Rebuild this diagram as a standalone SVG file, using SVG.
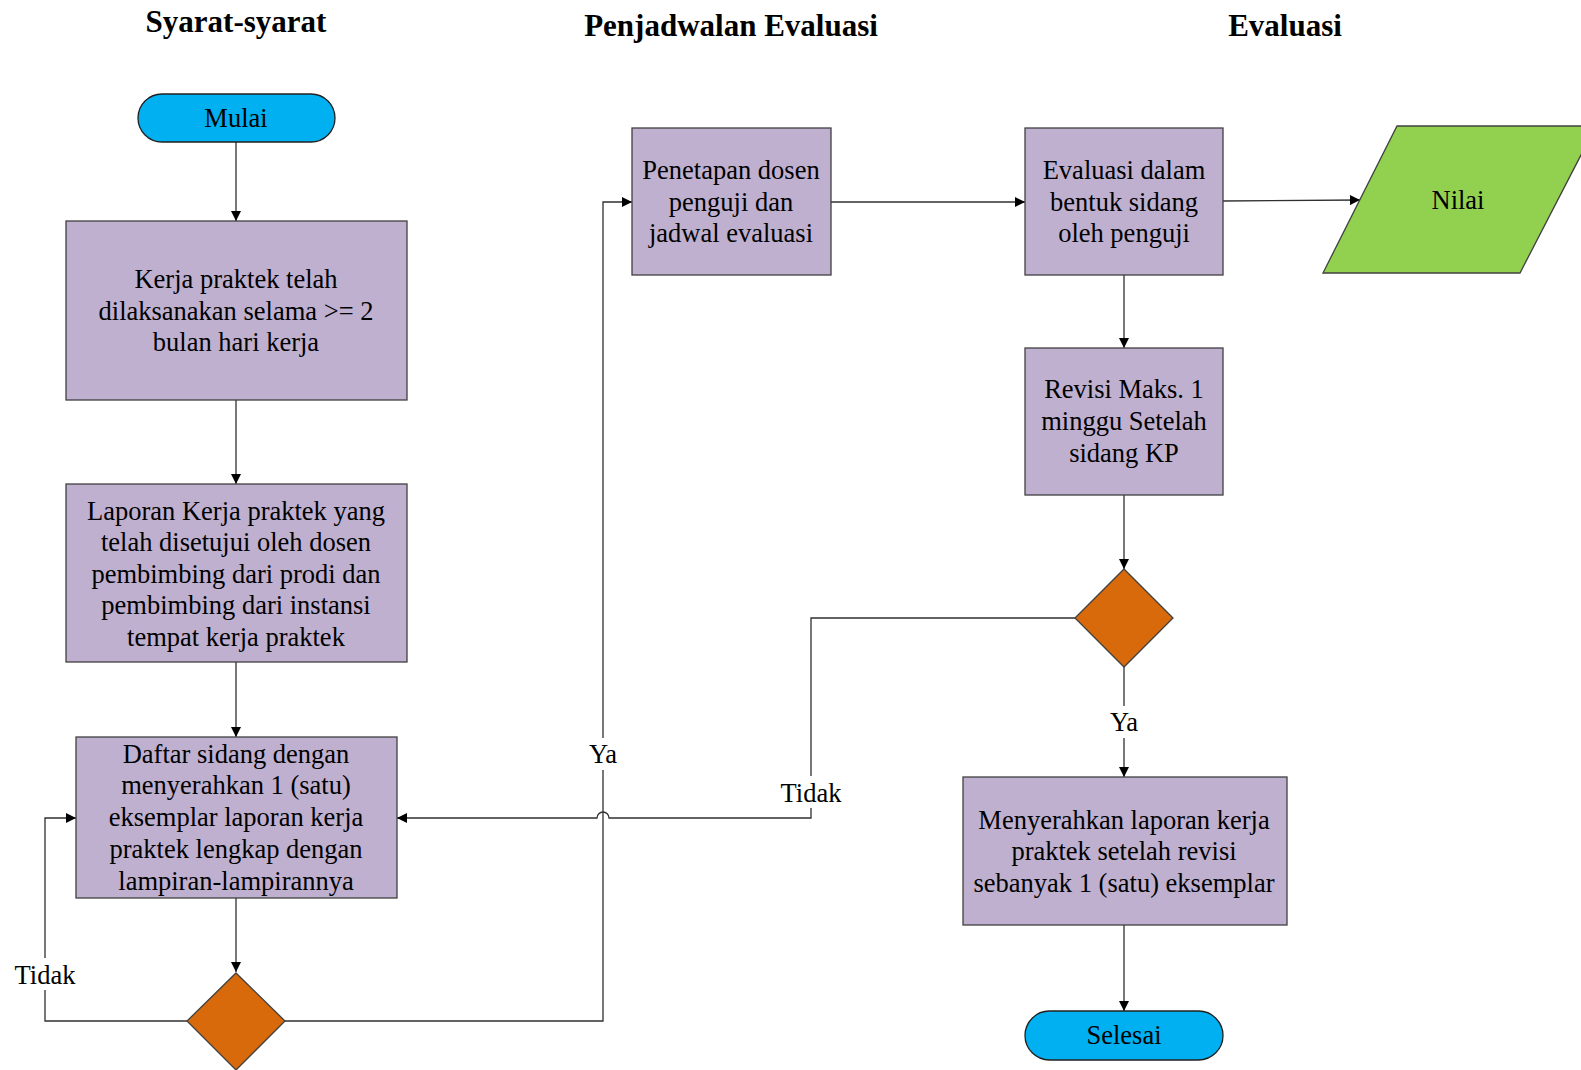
<svg xmlns="http://www.w3.org/2000/svg" width="1581" height="1070" viewBox="0 0 1581 1070">
<defs>
<style>
.t{font-family:"Liberation Serif","Times New Roman",serif;font-size:26.5px;fill:#000;text-anchor:middle}
.h{font-family:"Liberation Serif","Times New Roman",serif;font-size:31px;font-weight:bold;fill:#000;text-anchor:middle}
.box{fill:#BFB0D0;stroke:#404040;stroke-width:1.3}
.term{fill:#00B0F0;stroke:#202020;stroke-width:1.3}
.dec{fill:#D86A0C;stroke:#404040;stroke-width:1.3}
.io{fill:#92D050;stroke:#404040;stroke-width:1.3}
.ln{fill:none;stroke:#303030;stroke-width:1.3}
.bg{fill:#fff}
</style>
<marker id="ar" viewBox="0 0 10 10" refX="10" refY="5" markerWidth="10" markerHeight="10" markerUnits="userSpaceOnUse" orient="auto">
<path d="M0,0 L10,5 L0,10 z" fill="#000"/>
</marker>
</defs>
<rect width="1581" height="1070" fill="#fff"/>

<g id="titles">
<text class="h" x="236" y="32">Syarat-syarat</text>
<text class="h" x="731" y="36">Penjadwalan Evaluasi</text>
<text class="h" x="1285" y="36">Evaluasi</text>
</g>

<g id="connectors">
<path class="ln" marker-end="url(#ar)" d="M236,142 L236,221"/>
<path class="ln" marker-end="url(#ar)" d="M236,400 L236,484"/>
<path class="ln" marker-end="url(#ar)" d="M236,662 L236,737"/>
<path class="ln" marker-end="url(#ar)" d="M236,898 L236,972"/>
<path class="ln" marker-end="url(#ar)" d="M187,1021 L45,1021 L45,818 L76,818"/>
<path class="ln" marker-end="url(#ar)" d="M285,1021 L603,1021 L603,202 L632,202"/>
<path class="ln" marker-end="url(#ar)" d="M831,202 L1025,202"/>
<path class="ln" marker-end="url(#ar)" d="M1223,201 L1360,200"/>
<path class="ln" marker-end="url(#ar)" d="M1124,275 L1124,348"/>
<path class="ln" marker-end="url(#ar)" d="M1124,495 L1124,569"/>
<path class="ln" marker-end="url(#ar)" d="M1075,618 L811,618 L811,818 L609,818 A6,6 0 0 0 597,818 L397,818"/>
<path class="ln" marker-end="url(#ar)" d="M1124,667 L1124,777"/>
<path class="ln" marker-end="url(#ar)" d="M1124,925 L1124,1011"/>
<g id="labels">
<rect class="bg" x="10" y="958" width="72" height="32"/>
<text class="t" x="45" y="984">Tidak</text>
<rect class="bg" x="583" y="738" width="40" height="32"/>
<text class="t" x="603" y="763">Ya</text>
<rect class="bg" x="774" y="776" width="74" height="32"/>
<text class="t" x="811" y="802">Tidak</text>
<rect class="bg" x="1104" y="706" width="40" height="32"/>
<text class="t" x="1124" y="731">Ya</text>
</g>
</g>

<g id="mulai">
<rect class="term" x="138" y="94" width="197" height="48" rx="24"/>
<text class="t" x="236" y="127">Mulai</text>
</g>

<g id="kerja">
<rect class="box" x="66" y="221" width="341" height="179"/>
<text class="t" x="236" y="288">Kerja praktek telah</text>
<text class="t" x="236" y="320">dilaksanakan selama &gt;= 2</text>
<text class="t" x="236" y="351">bulan hari kerja</text>
</g>

<g id="laporan">
<rect class="box" x="66" y="484" width="341" height="178"/>
<text class="t" x="236" y="520">Laporan Kerja praktek yang</text>
<text class="t" x="236" y="551">telah disetujui oleh dosen</text>
<text class="t" x="236" y="583">pembimbing dari prodi dan</text>
<text class="t" x="236" y="614">pembimbing dari instansi</text>
<text class="t" x="236" y="646">tempat kerja praktek</text>
</g>

<g id="daftar">
<rect class="box" x="76" y="737" width="321" height="161"/>
<text class="t" x="236" y="763">Daftar sidang dengan</text>
<text class="t" x="236" y="794">menyerahkan 1 (satu)</text>
<text class="t" x="236" y="826">eksemplar laporan kerja</text>
<text class="t" x="236" y="858">praktek lengkap dengan</text>
<text class="t" x="236" y="890">lampiran-lampirannya</text>
</g>

<g id="decision1">
<polygon class="dec" points="236,973 285,1021 236,1070 187,1021"/>
</g>

<g id="penetapan">
<rect class="box" x="632" y="128" width="199" height="147"/>
<text class="t" x="731" y="179">Penetapan dosen</text>
<text class="t" x="731" y="211">penguji dan</text>
<text class="t" x="731" y="242">jadwal evaluasi</text>
</g>

<g id="evaluasi">
<rect class="box" x="1025" y="128" width="198" height="147"/>
<text class="t" x="1124" y="179">Evaluasi dalam</text>
<text class="t" x="1124" y="211">bentuk sidang</text>
<text class="t" x="1124" y="242">oleh penguji</text>
</g>

<g id="nilai">
<polygon class="io" points="1397,126 1596,126 1520,273 1323,273"/>
<text class="t" x="1458" y="209">Nilai</text>
</g>

<g id="revisi">
<rect class="box" x="1025" y="348" width="198" height="147"/>
<text class="t" x="1124" y="398">Revisi Maks. 1</text>
<text class="t" x="1124" y="430">minggu Setelah</text>
<text class="t" x="1124" y="462">sidang KP</text>
</g>

<g id="decision2">
<polygon class="dec" points="1124,569 1173,618 1124,667 1075,618"/>
</g>

<g id="menyerahkan">
<rect class="box" x="963" y="777" width="324" height="148"/>
<text class="t" x="1124" y="829">Menyerahkan laporan kerja</text>
<text class="t" x="1124" y="860">praktek setelah revisi</text>
<text class="t" x="1124" y="892">sebanyak 1 (satu) eksemplar</text>
</g>

<g id="selesai">
<rect class="term" x="1025" y="1011" width="198" height="49" rx="24.5"/>
<text class="t" x="1124" y="1044">Selesai</text>
</g>
</svg>
